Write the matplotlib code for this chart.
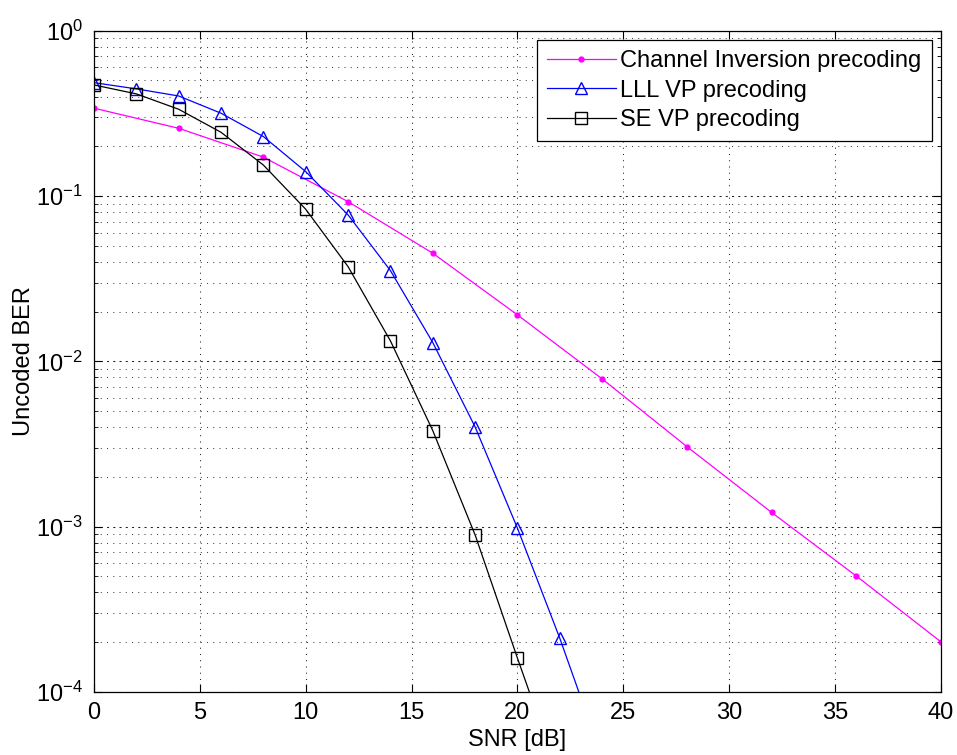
import numpy as np
import matplotlib
matplotlib.use('Agg')
import matplotlib.pyplot as plt
from matplotlib.ticker import LogLocator, LogFormatterSciNotation, NullFormatter, MultipleLocator

plt.rcParams['font.family'] = ['Liberation Sans', 'DejaVu Sans']
plt.rcParams['mathtext.fontset'] = 'custom'
plt.rcParams['mathtext.rm'] = 'Liberation Sans'
plt.rcParams['font.size'] = 17

# values
snr_ci = [0, 4, 8, 12, 16, 20, 24, 28, 32, 36, 40]
ber_ci = [0.340, 0.257, 0.172, 0.0925, 0.0451, 0.0191, 0.00783, 0.00305, 0.00122, 0.000503, 0.000201]

snr_vp = [0, 2, 4, 6, 8, 10, 12, 14, 16, 18, 20, 22, 24]
ber_lll = [0.485, 0.445, 0.403, 0.317, 0.229, 0.1405, 0.0769, 0.0354, 0.0130, 0.00401, 0.000978, 0.000211, 0.00004]
ber_se = [0.470, 0.415, 0.335, 0.243, 0.154, 0.0832, 0.0374, 0.0133, 0.00381, 0.000891, 0.000160, 0.00003, 0.000005]

labels = ['Channel Inversion precoding', 'LLL VP precoding', 'SE VP precoding']

fig = plt.figure(figsize=(9.57, 7.55), dpi=100)
ax = fig.add_axes([0.0982, 0.0834, 0.8851, 0.8759])

ax.semilogy(snr_ci, ber_ci, color='#ff00ff', lw=0.9, marker='o', ms=3.5, mfc='#ff00ff', mec='#ff00ff', label=labels[0])
ax.semilogy(snr_vp, ber_lll, color='#0000ff', lw=0.9, marker='^', ms=9, mfc='none', mec='#0000ff', mew=1.0, label=labels[1])
ax.semilogy(snr_vp, ber_se, color='black', lw=0.9, marker='s', ms=8, mfc='none', mec='black', mew=1.0, label=labels[2])

ax.set_xlim(0, 40)
ax.set_ylim(1e-4, 1)
ax.xaxis.set_major_locator(MultipleLocator(5))
ax.yaxis.set_major_locator(LogLocator(base=10, numticks=10))
ax.yaxis.set_major_formatter(LogFormatterSciNotation())
ax.yaxis.set_minor_locator(LogLocator(base=10, subs=np.arange(2, 10), numticks=20))
ax.yaxis.set_minor_formatter(NullFormatter())

# matlab style dotted grid
ax.xaxis.grid(True, which='major', linestyle=(0, (1, 5)), color='#222222', lw=0.75)
ax.yaxis.grid(True, which='major', linestyle=(0, (2, 4)), color='#222222', lw=0.75)
ax.yaxis.grid(True, which='minor', linestyle=(0, (1, 5)), color='#444444', lw=0.75)
ax.set_axisbelow(True)

ax.tick_params(which='both', direction='in', top=True, right=True, labelsize=17)
ax.tick_params(which='major', length=6)
ax.tick_params(which='minor', length=3)
ax.tick_params(axis='x', pad=7)
ax.tick_params(axis='y', pad=8)
for s in ax.spines.values():
    s.set_linewidth(0.9)

ax.set_xlabel('SNR [dB]', fontsize=17, labelpad=4)
ax.set_ylabel('Uncoded BER', fontsize=17, labelpad=1)

leg = ax.legend(loc='upper right', fancybox=False, framealpha=1, edgecolor='black',
                borderaxespad=0.4, handlelength=2.9, handletextpad=0.2, labelspacing=0.32,
                borderpad=0.42, fontsize=17)
leg.get_frame().set_linewidth(0.9)

fig.savefig('out.png', dpi=100)
